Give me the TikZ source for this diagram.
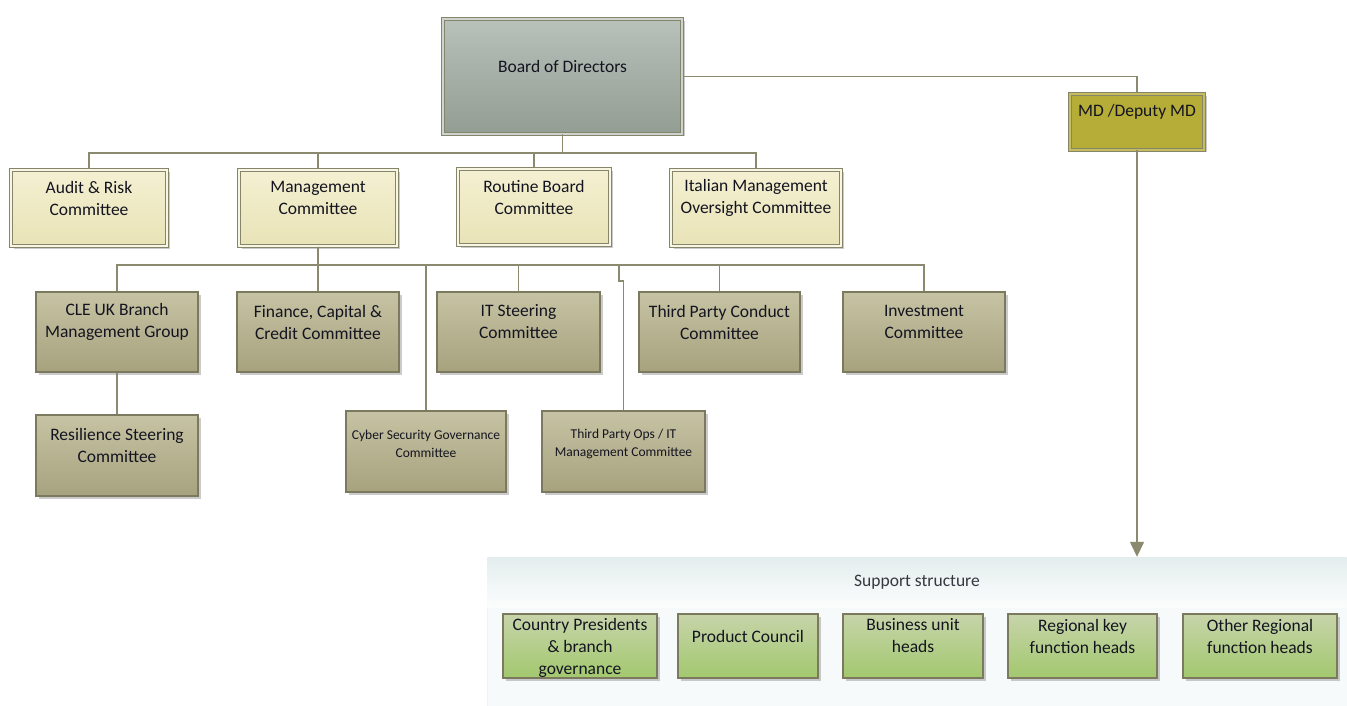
\documentclass[tikz,border=0pt]{standalone}
\usepackage{fontspec}
\setmainfont{Carlito}
\usetikzlibrary{arrows.meta, shadows, positioning}

\definecolor{ink}{HTML}{141420}
\definecolor{wire}{HTML}{8C8A6E}
\definecolor{edge}{HTML}{86856A}
\definecolor{edgedark}{HTML}{7C7A5E}
\definecolor{boardtop}{HTML}{B8C1BA}
\definecolor{boardbot}{HTML}{929D93}
\definecolor{creamtop}{HTML}{F4F0D2}
\definecolor{creambot}{HTML}{E8E3B6}
\definecolor{khakitop}{HTML}{C6C3A4}
\definecolor{khakibot}{HTML}{A7A27E}
\definecolor{mdfill}{HTML}{B6AC38}
\definecolor{greentop}{HTML}{C7D4AA}
\definecolor{greenbot}{HTML}{A2C86E}
\definecolor{panelfill}{HTML}{F6FAFA}
\definecolor{paneltop}{HTML}{E4EDED}

\tikzset{
  link/.style={draw=wire, line width=1.4pt},
  txt/.style={font=\fontsize{17.5}{22}\selectfont, text=ink, align=center, yshift=10pt},
  smalltxt/.style={font=\fontsize{13.5}{18}\selectfont},
  unit/.style={rectangle, inner sep=0pt, minimum height=80pt,
    drop shadow={shadow xshift=2.5pt, shadow yshift=-2.5pt, fill=black!45, opacity=.45}},
  dbl/.style={draw=edge, line width=1pt, double=#1, double distance=1.8pt},
  boardbox/.style={unit, dbl=boardtop!70!white, top color=boardtop, bottom color=boardbot,
    label={[txt]center:#1}},
  mdbox/.style={unit, dbl=mdfill!80!white, fill=mdfill, label={[txt]center:#1}},
  creambox/.style={unit, dbl=creamtop!60!white, top color=creamtop, bottom color=creambot,
    minimum height=76pt, label={[txt]center:#1}},
  khakibox/.style={unit, draw=edgedark, line width=1.2pt, top color=khakitop, bottom color=khakibot},
  khaki/.style={khakibox, label={[txt]center:#1}},
  khakism/.style={khakibox, label={[txt,smalltxt,yshift=-2pt]center:#1}},
  greenbox/.style={unit, draw=edgedark, line width=1.2pt, top color=greentop, bottom color=greenbot,
    minimum height=64pt},
  green/.style={greenbox, label={[txt]center:#1}},
}

\begin{document}
\begin{tikzpicture}[x=1pt, y=-1pt]
\useasboundingbox (0,0) rectangle (1347,706);

% support panel
\node[rectangle, draw=paneltop!80!gray!30, fill=panelfill, minimum width=860pt, minimum height=149pt, inner sep=0pt] (support) at (917,631.5) {};
\node[rectangle, top color=paneltop, bottom color=panelfill!40!white, minimum width=859pt, minimum height=50pt, inner sep=0pt,
      font=\fontsize{17.5}{22}\selectfont, text=ink!85, below=0pt of support.north] (suphead) {Support structure};

% top
\node[boardbox={Board of Directors}, minimum width=239pt, minimum height=115pt] (board) at (562.5,76.5) {};
\node[mdbox={MD /Deputy MD}, minimum width=134pt, minimum height=56pt] (md) at (1137,122) {};

% committees
\node[creambox={Audit \& Risk\\Committee}, minimum width=156pt] (audit) at (89,208) {};
\node[creambox={Management\\Committee}, minimum width=158pt] (mgmt) at (318,208) {};
\node[creambox={Routine Board\\Committee}, minimum width=152pt] (routine) at (534,207) {};
\node[creambox={Italian Management\\Oversight Committee}, minimum width=170pt] (italian) at (756,208) {};

\node[khaki={CLE UK Branch\\Management Group}, minimum width=162pt] (cle) at (117,332) {};
\node[khaki={Finance, Capital \&\\Credit Committee}, minimum width=162pt] (finance) at (318,332) {};
\node[khaki={IT Steering\\Committee}, minimum width=163pt] (itsc) at (518.5,332) {};
\node[khaki={Third Party Conduct\\Committee}, minimum width=161pt] (tpc) at (719.5,332) {};
\node[khaki={Investment\\Committee}, minimum width=162pt] (invest) at (924,332) {};

\node[khaki={Resilience Steering\\Committee}, minimum width=162pt, minimum height=81pt] (resil) at (117,455.5) {};
\node[khakism={Cyber Security Governance\\Committee}, minimum width=160pt, minimum height=81pt] (cyber) at (426,451.5) {};
\node[khakism={Third Party Ops / IT\\Management Committee}, minimum width=163pt, minimum height=81pt] (tpo) at (623.5,451.5) {};

% support units
\node[greenbox, minimum width=154pt, label={[txt,yshift=-12pt]center:Country Presidents\\\& branch\\governance}] (country) at (580,646) {};
\node[green={Product Council}, minimum width=140pt] (product) at (748,646) {};
\node[green={Business unit\\heads}, minimum width=140pt] (business) at (913,646) {};
\node[green={Regional key\\function heads}, minimum width=149pt] (regkey) at (1082.5,646) {};
\node[green={Other Regional\\function heads}, minimum width=154pt] (other) at (1260,646) {};

% connectors
\coordinate (busA) at (board.south |- 0,153);
\foreach \n in {audit,mgmt,routine,italian}
  \draw[link] (board.south) -- (busA) -| (\n.north);

\coordinate (busB) at (mgmt.south |- 0,265);
\foreach \n in {cle,finance,itsc,tpc,invest,cyber}
  \draw[link] (mgmt.south) -- (busB) -| (\n.north);
\coordinate (jog) at (619,281);
\draw[link] (busB) -| (jog) -| (tpo.north);
\draw[link] (cle.south) -- (resil.north);

\draw[link] (board.east) -| (md.north);
\draw[link, -{Triangle[width=14pt,length=15pt]}] (md.south) -- (md.south |- support.north);
\end{tikzpicture}
\end{document}
